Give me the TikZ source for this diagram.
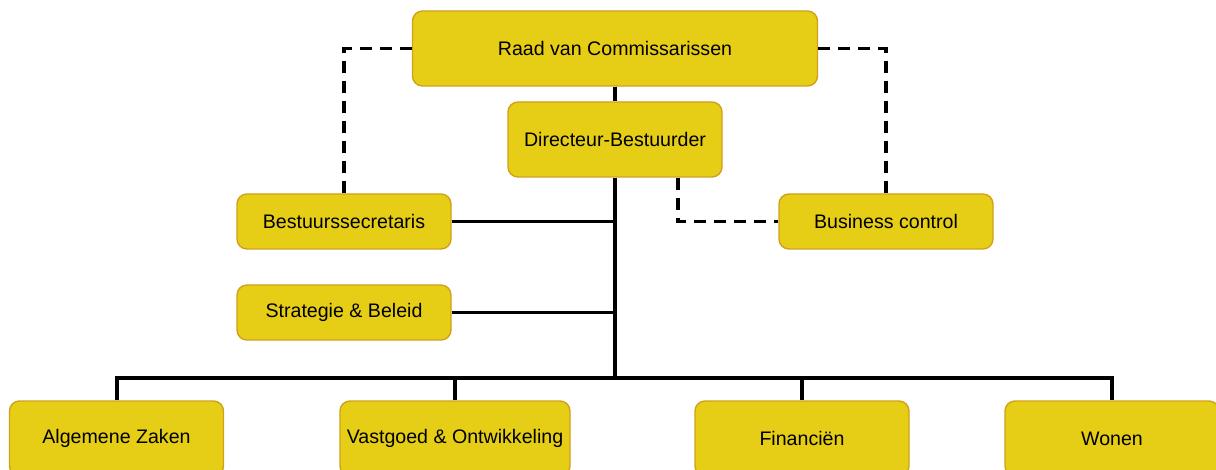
\documentclass[tikz,border=0pt]{standalone}
\usepackage{fontspec}
\setmainfont{Liberation Sans}
\usepackage{tikz}
\definecolor{vakgeel}{RGB}{230,206,22}
\definecolor{vakrand}{RGB}{210,160,24}

\begin{document}
\begin{tikzpicture}[x=0.5pt, y=-0.5pt,
    vak/.style={draw=vakrand, fill=vakgeel, line width=0.7pt, rounded corners=5pt,
        minimum width=107pt, minimum height=27.5pt, inner sep=0pt,
        font=\fontsize{9.8}{12}\selectfont},
    hoog/.style={vak, minimum height=37.5pt},
    lijn/.style={line width=2pt},
    tak/.style={line width=1.5pt},
    stippel/.style={line width=1.6pt, dash pattern=on 6pt off 4pt}]
    \useasboundingbox (0,0) rectangle (1216,470);

    % Vakken.
    \node[hoog, minimum width=202.5pt] (raad) at (615,48.5) {Raad van Commissarissen};
    \node[hoog] (dir) at (615,139.5) {Directeur-Bestuurder};
    \node[vak] (secr) at (344,221.5) {Bestuurssecretaris};
    \node[vak] (strat) at (344,312.5) {Strategie \& Beleid};
    \node[vak] (bc) at (886,221.5) {Business control};
    \node[hoog] (alg) at (116.5,438.5) {Algemene Zaken};
    \node[hoog, minimum width=115pt] (vast) at (455,438.5) {Vastgoed \& Ontwikkeling};
    \node[hoog] (fin) at (802,438.5) {Financiën};
    \node[hoog] (wonen) at (1112,438.5) {Wonen};
    \coordinate (bus) at (615,378);

    % Lijnen.
    \draw[lijn] (raad.south) -- (dir.north);
    \draw[lijn] (dir.south) -- (bus);
    \draw[lijn] (alg.north) |- (bus) -| (wonen.north);
    \foreach \n in {vast,fin}
    {
        \draw[lijn] (\n.north) |- (bus);
    }
    \foreach \n in {secr,strat}
    {
        \draw[tak] (\n.east) -- (\n.east -| bus);
    }

    % Stippellijnen.
    \draw[stippel] (raad.west) -| (secr.north);
    \draw[stippel] (raad.east) -| (bc.north);
    \draw[stippel] ([xshift=31.5pt]dir.south) |- (bc.west);
\end{tikzpicture}
\end{document}
